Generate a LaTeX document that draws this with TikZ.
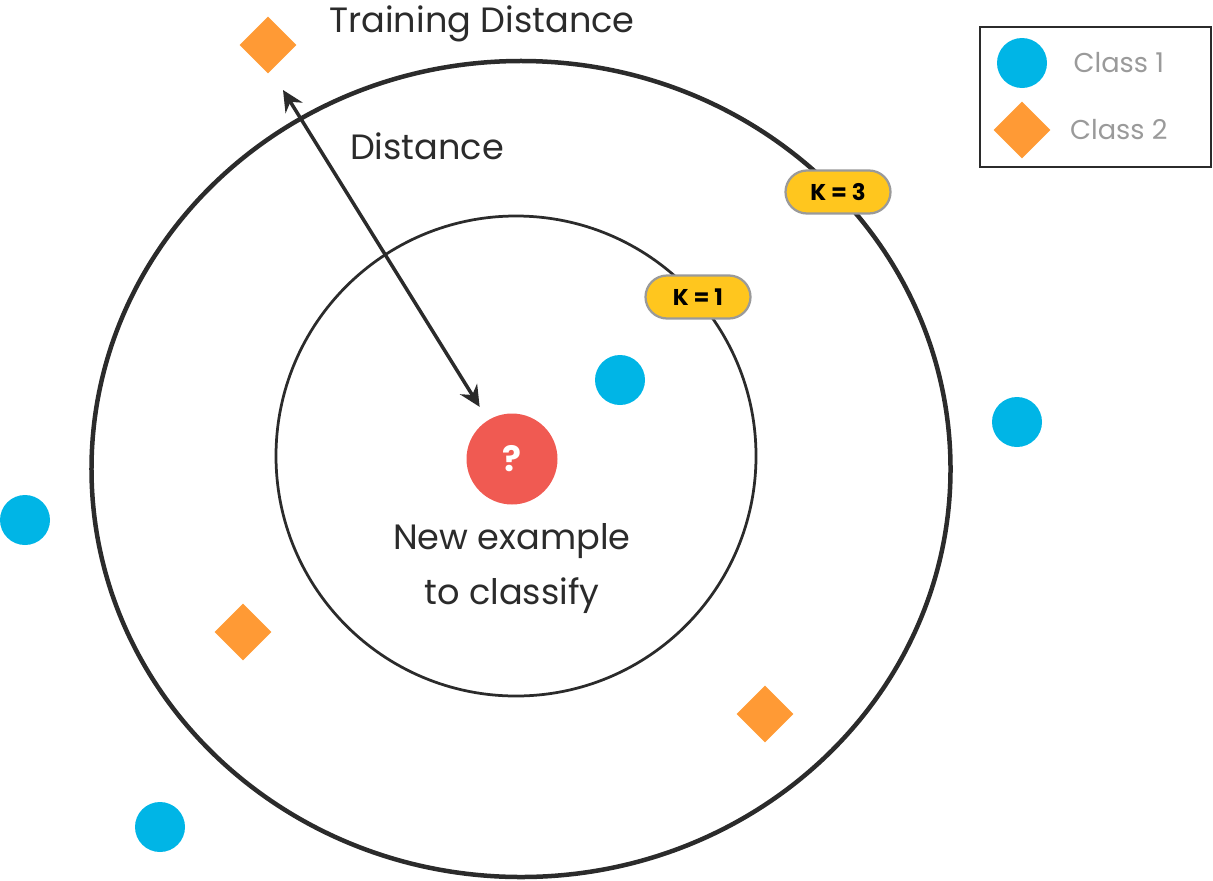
\documentclass[tikz,border=0pt]{standalone}
\usepackage{fontspec}
\setmainfont{Poppins}
\usetikzlibrary{shapes.geometric, arrows.meta, positioning}

\definecolor{clsblue}{HTML}{00B5E6}
\definecolor{clsorange}{HTML}{FF9A35}
\definecolor{queryred}{HTML}{F05A52}
\definecolor{kyellow}{HTML}{FFC61E}
\definecolor{ink}{HTML}{2B2B2B}
\definecolor{softgray}{HTML}{9A9A9A}

\begin{document}
\begin{tikzpicture}[x=0.2mm, y=-0.2mm,
    dot/.style={circle, fill=clsblue, minimum size=10mm, inner sep=0pt},
    gem/.style={diamond, fill=clsorange, minimum size=11.4mm, inner sep=0pt},
    kpill/.style={rounded corners=4.3mm, draw=softgray, line width=0.45mm, fill=kyellow,
        minimum width=21mm, minimum height=8.6mm, font=\fontsize{13}{15}\selectfont\bfseries},
    label/.style={text=ink, font=\fontsize{20}{31.5}\selectfont},
    legtext/.style={text=softgray, font=\fontsize{15.5}{18}\selectfont}
]
    % Canvas
    \useasboundingbox (0,0) rectangle (1213,880);

    % Neighbourhood rings
    \draw[ink, line width=0.9mm] (521,469) ellipse (85.9mm and 81.6mm);
    \draw[ink, line width=0.55mm] (516,456) circle (48mm);

    % Example to classify
    \node[circle, fill=queryred, minimum size=18.2mm, inner sep=0pt, text=white,
        font=\fontsize{20}{22}\selectfont\bfseries] (query) at (512,459) {?};
    \node[label, align=center, below=2.4mm of query] (querytxt) {New example\\to classify};

    % Class 1 points
    \foreach \name/\px/\py in {b1/620/380, b2/1017/422, b3/25/520, b4/160/827} {
        \node[dot] (\name) at (\px,\py) {};
    }

    % Class 2 points
    \foreach \name/\px/\py in {o1/268/45, o2/243/632, o3/765/714} {
        \node[gem] (\name) at (\px,\py) {};
    }

    % Distance arrow
    \coordinate (arrowtop) at (283,90);
    \draw[ink, line width=0.7mm, {Stealth[length=4.2mm, width=4mm, inset=1.4mm]}-{Stealth[length=4.2mm, width=4mm, inset=1.4mm]},
        shorten >=3.1mm] (arrowtop) -- (query);
    \node[label] (dist) at (427,146) {Distance};
    \node[label] (traindist) at (482,24) {Training Distance};

    % K labels
    \node[kpill] (k3) at (838,192) {K = 3};
    \node[kpill] (k1) at (698,297) {K = 1};

    % Legend
    \draw[ink, line width=0.45mm] (980,27) rectangle (1211,167);
    \node[dot] (legdot) at (1022,63) {};
    \node[gem] (leggem) at (1022,130) {};
    \node[legtext, right=4mm of legdot] (leg1) {Class 1};
    \node[legtext, right=2.6mm of leggem] (leg2) {Class 2};
\end{tikzpicture}
\end{document}
